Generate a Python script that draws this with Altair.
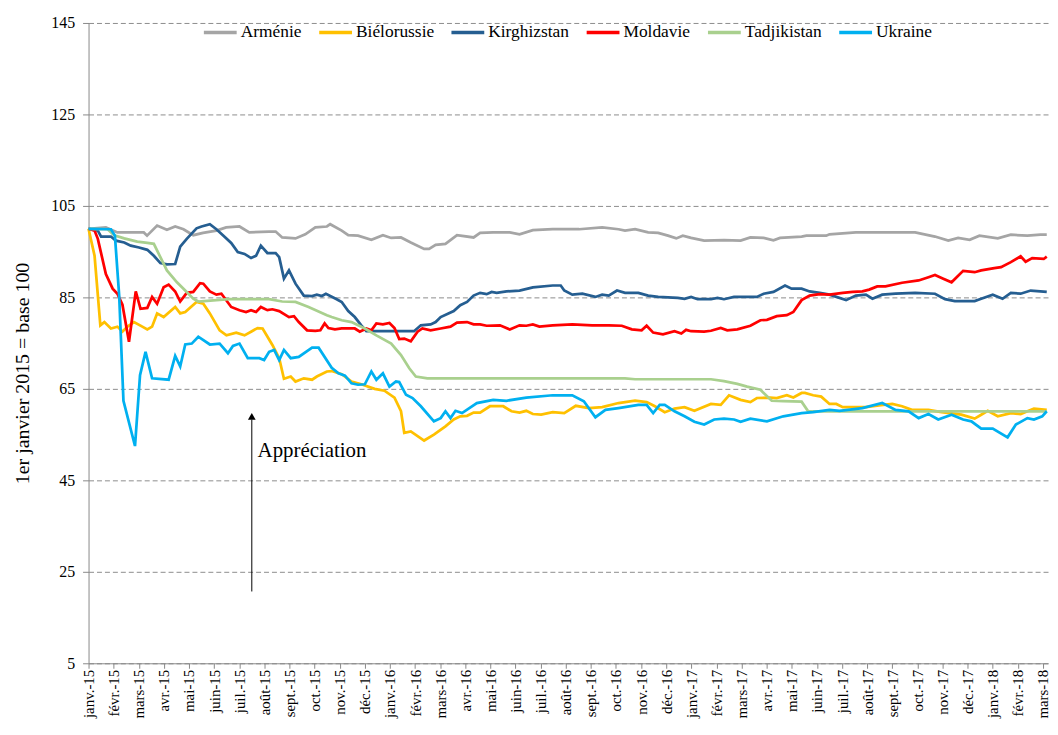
import altair as alt
import pandas as pd

FONT = "Liberation Serif"

MONTH_LABELS = [
    "janv.-15", "févr.-15", "mars-15", "avr.-15", "mai-15", "juin-15", "juil.-15", "août-15",
    "sept.-15", "oct.-15", "nov.-15", "déc.-15",
    "janv.-16", "févr.-16", "mars-16", "avr.-16", "mai-16", "juin-16", "juil.-16", "août-16",
    "sept.-16", "oct.-16", "nov.-16", "déc.-16",
    "janv.-17", "févr.-17", "mars-17", "avr.-17", "mai-17", "juin-17", "juil.-17", "août-17",
    "sept.-17", "oct.-17", "nov.-17", "déc.-17",
    "janv.-18", "févr.-18", "mars-18",
]
Y_TICKS = [5, 25, 45, 65, 85, 105, 125, 145]

SERIES_NAMES = ["Arménie", "Biélorussie", "Kirghizstan", "Moldavie", "Tadjikistan", "Ukraine"]
SERIES_COLORS = ["#A5A5A5", "#FFC000", "#255E91", "#FF0000", "#A9D08E", "#00B0F0"]

# (month index since janv.-15, index value)
ARMENIE = [(0, 100), (0.69, 100.3), (1.15, 99.2), (2.20, 99.2), (2.33, 98.5), (2.73, 100.7), (3.12, 99.8),
           (3.45, 100.5), (3.78, 99.9), (4.17, 98.6), (4.56, 99.1), (5.09, 99.6), (5.48, 100.3), (6.01, 100.5),
           (6.40, 99.2), (7.19, 99.4), (7.45, 99.4), (7.71, 98.1), (8.24, 97.9), (8.63, 98.8), (9.03, 100.3),
           (9.49, 100.5), (9.62, 101.0), (10.08, 99.6), (10.34, 98.6), (10.73, 98.5), (11.26, 97.6), (11.72, 98.6),
           (12.05, 98.0), (12.44, 98.1), (12.83, 97.0), (13.36, 95.6), (13.56, 95.6), (13.82, 96.5), (14.21, 96.7),
           (14.67, 98.6), (15.33, 98.1), (15.59, 99.1), (16.11, 99.2), (16.77, 99.2), (17.16, 98.8), (17.69, 99.7),
           (18.48, 99.9), (19.53, 99.9), (20.45, 100.3), (21.10, 99.9), (21.36, 99.6), (21.76, 99.9), (22.28, 99.2),
           (22.68, 99.1), (23.07, 98.5), (23.40, 97.9), (23.66, 98.5), (23.99, 98.0), (24.51, 97.4), (25.30, 97.5),
           (25.96, 97.4), (26.35, 98.1), (26.88, 98.0), (27.27, 97.5), (27.53, 98.0), (28.39, 98.3), (28.58, 98.5),
           (29.37, 98.5), (29.50, 98.8), (30.55, 99.2), (32.91, 99.2), (33.70, 98.3), (34.23, 97.4), (34.62, 98.0),
           (35.08, 97.6), (35.47, 98.5), (36.20, 97.9), (36.72, 98.7), (37.38, 98.5), (37.90, 98.7), (38.15, 98.7)]

BIELORUSSIE = [(0, 100), (0.24, 94.1), (0.47, 78.9), (0.63, 79.6), (0.89, 78.2), (1.15, 78.6), (1.35, 77.5),
               (1.55, 78.6), (1.81, 79.6), (2.14, 78.6), (2.34, 78.0), (2.53, 78.6), (2.73, 81.5), (2.99, 80.7),
               (3.45, 82.9), (3.65, 81.5), (3.85, 81.8), (4.30, 84.0), (4.57, 83.6), (4.83, 81.5), (5.22, 77.8),
               (5.49, 76.7), (5.88, 77.3), (6.21, 76.7), (6.47, 77.5), (6.73, 78.3), (6.93, 78.2), (7.32, 74.6),
               (7.59, 71.7), (7.78, 67.2), (8.05, 67.7), (8.24, 66.6), (8.57, 67.3), (8.90, 67.0), (9.09, 67.7),
               (9.49, 68.8), (9.68, 68.9), (10.08, 68.2), (10.47, 66.6), (10.86, 66.0), (11.39, 65.0), (11.78, 64.6),
               (12.18, 63.1), (12.44, 60.1), (12.57, 55.4), (12.83, 55.7), (13.36, 53.7), (13.75, 55.0), (14.21, 56.8),
               (14.54, 58.3), (14.80, 59.0), (15.07, 59.1), (15.33, 59.8), (15.59, 59.8), (15.98, 61.2), (16.51, 61.2),
               (16.84, 60.1), (17.16, 59.8), (17.43, 60.2), (17.69, 59.5), (18.02, 59.35), (18.48, 59.9), (18.94, 59.7),
               (19.40, 61.3), (19.92, 60.8), (20.45, 61.0), (21.10, 61.9), (21.76, 62.4), (22.22, 62.1), (22.55, 61.2),
               (22.94, 59.9), (23.33, 60.7), (23.73, 61.0), (24.12, 60.2), (24.78, 61.7), (25.17, 61.5), (25.50, 63.6),
               (25.96, 62.6), (26.35, 62.1), (26.61, 63.0), (27.14, 63.1), (27.40, 63.0), (27.80, 63.6), (28.06, 63.1),
               (28.39, 64.1), (28.52, 64.1), (28.85, 63.6), (29.17, 63.3), (29.50, 61.7), (29.77, 61.7), (30.03, 61.0),
               (30.95, 61.0), (31.47, 61.4), (32.00, 61.7), (32.39, 61.2), (32.78, 60.4), (33.44, 60.4), (33.96, 59.9),
               (34.75, 59.35), (35.28, 58.5), (35.54, 59.35), (35.80, 60.2), (36.20, 59.0), (36.72, 59.7), (37.11, 59.5),
               (37.64, 60.7), (38.15, 60.4)]

KIRGHIZSTAN = [(0, 100), (0.37, 99.6), (0.50, 98.3), (0.89, 98.3), (1.09, 97.4), (1.42, 97.0), (1.68, 96.3),
               (2.01, 95.9), (2.34, 95.4), (2.60, 94.1), (2.86, 92.5), (3.12, 92.2), (3.45, 92.3), (3.65, 96.1),
               (3.91, 97.8), (4.30, 100.1), (4.50, 100.5), (4.83, 101.0), (5.09, 99.9), (5.35, 98.6), (5.68, 96.9),
               (5.94, 94.9), (6.21, 94.5), (6.47, 93.6), (6.67, 94.1), (6.86, 96.3), (7.12, 94.7), (7.45, 94.7),
               (7.59, 93.8), (7.78, 89.1), (7.98, 90.9), (8.24, 88.0), (8.57, 85.4), (8.90, 85.3), (9.09, 85.6),
               (9.29, 85.3), (9.45, 85.8), (9.88, 84.6), (10.08, 84.0), (10.34, 82.0), (10.60, 80.7), (10.86, 78.9),
               (11.06, 77.6), (12.96, 77.6), (13.23, 78.9), (13.62, 79.1), (13.82, 79.6), (14.02, 80.7), (14.54, 82.0),
               (14.80, 83.3), (15.07, 84.0), (15.33, 85.4), (15.59, 86.0), (15.85, 85.7), (16.05, 86.2), (16.25, 86.0),
               (16.64, 86.3), (17.16, 86.5), (17.69, 87.2), (18.48, 87.6), (18.80, 87.6), (18.94, 86.5), (19.26, 85.6),
               (19.66, 85.8), (20.18, 85.1), (20.45, 85.6), (20.71, 85.4), (21.04, 86.5), (21.36, 86.0), (21.89, 86.0),
               (22.28, 85.4), (22.68, 85.1), (23.46, 84.9), (23.73, 84.7), (23.99, 85.1), (24.25, 84.6), (24.78, 84.6),
               (25.04, 84.9), (25.30, 84.6), (25.70, 85.1), (26.61, 85.1), (26.88, 85.8), (27.27, 86.2), (27.73, 87.6),
               (27.99, 86.9), (28.39, 86.9), (28.71, 86.3), (29.11, 86.0), (29.50, 85.6), (30.16, 84.4), (30.55, 85.4),
               (30.95, 85.6), (31.21, 84.7), (31.60, 85.6), (32.13, 85.8), (32.91, 86.0), (33.70, 85.8), (34.10, 84.6),
               (34.49, 84.2), (35.28, 84.2), (35.54, 84.7), (36.00, 85.6), (36.39, 84.7), (36.72, 86.0), (37.11, 85.8),
               (37.51, 86.5), (38.15, 86.2)]

MOLDAVIE = [(0, 100), (0.24, 99.6), (0.37, 97.8), (0.69, 90.1), (0.96, 86.9), (1.15, 85.8), (1.35, 83.4),
            (1.61, 75.3), (1.88, 86.3), (2.07, 82.5), (2.34, 82.7), (2.53, 85.1), (2.73, 83.6), (2.99, 87.2),
            (3.19, 87.8), (3.45, 86.3), (3.65, 84.1), (3.91, 86.0), (4.17, 86.2), (4.44, 88.1), (4.57, 88.0),
            (4.83, 86.3), (5.09, 85.6), (5.29, 85.8), (5.68, 82.9), (6.01, 82.2), (6.27, 81.8), (6.47, 82.2),
            (6.67, 81.8), (6.86, 82.9), (7.12, 82.2), (7.32, 82.4), (7.59, 82.0), (7.98, 80.7), (8.18, 80.9),
            (8.37, 79.6), (8.70, 77.8), (9.03, 77.7), (9.23, 77.8), (9.40, 79.3), (9.55, 78.3), (9.81, 78.0),
            (10.08, 78.2), (10.60, 78.2), (10.80, 77.5), (11.06, 78.2), (11.26, 77.8), (11.46, 79.3), (11.72, 79.1),
            (11.98, 79.4), (12.18, 78.3), (12.37, 75.9), (12.57, 76.0), (12.83, 75.4), (13.10, 77.5), (13.29, 78.2),
            (13.62, 77.8), (14.02, 78.2), (14.41, 78.6), (14.67, 79.5), (15.07, 79.6), (15.33, 79.1), (15.59, 79.1),
            (15.85, 78.8), (16.38, 78.9), (16.77, 78.0), (17.16, 78.9), (17.43, 78.8), (17.69, 79.1), (17.95, 78.6),
            (18.48, 78.9), (19.26, 79.1), (20.05, 78.9), (20.71, 78.9), (21.23, 78.8), (21.63, 78.0), (22.02, 77.8),
            (22.22, 78.8), (22.48, 77.3), (22.87, 76.9), (23.33, 77.6), (23.60, 77.1), (23.79, 77.9), (23.99, 77.6),
            (24.51, 77.5), (24.78, 77.7), (25.17, 78.3), (25.43, 77.8), (25.83, 78.0), (26.35, 78.8), (26.75, 80.0),
            (27.01, 80.1), (27.40, 80.9), (27.80, 81.1), (28.06, 81.8), (28.39, 84.4), (28.71, 85.4), (29.11, 85.7),
            (29.50, 85.6), (30.03, 86.0), (30.42, 86.2), (30.81, 86.3), (31.08, 86.7), (31.40, 87.4), (31.73, 87.4),
            (32.39, 88.2), (33.05, 88.7), (33.44, 89.4), (33.70, 89.9), (34.03, 89.1), (34.36, 88.3), (34.82, 90.8),
            (35.28, 90.5), (35.54, 90.9), (36.06, 91.4), (36.33, 91.6), (36.72, 92.7), (37.11, 94.0), (37.31, 92.8),
            (37.57, 93.6), (38.03, 93.4), (38.15, 93.9)]

TADJIKISTAN = [(0, 100), (0.76, 99.9), (1.02, 98.6), (1.42, 97.9), (1.94, 97.2), (2.34, 96.9), (2.60, 96.7),
               (3.12, 90.9), (3.52, 88.3), (3.78, 86.9), (4.17, 84.7), (4.37, 84.1), (5.09, 84.4), (5.62, 84.6),
               (7.19, 84.6), (7.71, 84.1), (8.24, 84.0), (8.76, 82.9), (9.49, 81.1), (9.68, 80.7), (10.08, 80.0),
               (10.47, 79.6), (11.00, 78.2), (11.46, 76.7), (12.05, 74.9), (12.44, 72.4), (12.77, 69.5), (13.03, 67.7),
               (13.49, 67.3), (21.36, 67.3), (21.76, 67.1), (24.78, 67.1), (25.30, 66.7), (25.83, 66.1), (26.22, 65.5),
               (26.75, 64.8), (27.20, 62.4), (27.66, 62.3), (28.39, 62.2), (28.65, 60.1), (38.15, 60.1)]

UKRAINE = [(0, 100), (0.89, 99.9), (1.05, 98.5), (1.22, 85.4), (1.39, 62.4), (1.85, 52.5), (2.05, 68.0),
           (2.27, 73.1), (2.53, 67.3), (3.19, 67.0), (3.45, 72.2), (3.65, 69.9), (3.85, 74.7), (4.11, 74.9),
           (4.37, 76.4), (4.83, 74.7), (5.22, 74.9), (5.55, 72.8), (5.75, 74.4), (6.01, 74.9), (6.34, 71.7),
           (6.80, 71.7), (6.99, 71.3), (7.19, 73.1), (7.39, 73.5), (7.59, 71.3), (7.78, 73.5), (8.05, 71.7),
           (8.37, 72.0), (8.90, 74.0), (9.16, 74.0), (9.68, 69.6), (9.95, 68.4), (10.21, 67.9), (10.47, 66.2),
           (10.73, 65.9), (11.00, 66.0), (11.26, 68.8), (11.46, 67.0), (11.72, 68.4), (11.98, 65.5), (12.24, 66.6),
           (12.37, 66.5), (12.64, 63.7), (12.90, 63.0), (13.23, 61.2), (13.75, 57.9), (14.02, 58.6), (14.21, 60.1),
           (14.41, 58.6), (14.61, 60.2), (14.87, 59.7), (15.46, 61.9), (16.11, 62.6), (16.64, 62.4), (17.43, 63.1),
           (18.48, 63.6), (19.26, 63.6), (19.72, 62.3), (20.18, 58.8), (20.58, 60.4), (21.10, 60.8), (21.89, 61.5),
           (22.22, 61.5), (22.48, 59.7), (22.74, 61.5), (22.94, 61.5), (23.33, 60.1), (23.73, 59.0), (24.12, 57.8),
           (24.51, 57.2), (24.91, 58.3), (25.30, 58.5), (25.70, 58.3), (25.96, 57.8), (26.35, 58.5), (27.01, 57.9),
           (27.66, 59.0), (28.39, 59.7), (28.85, 59.9), (29.50, 60.4), (29.90, 60.2), (30.81, 60.8), (31.60, 61.9),
           (32.13, 60.4), (32.65, 60.1), (33.05, 58.6), (33.44, 59.5), (33.83, 58.3), (34.36, 59.35), (34.82, 58.3),
           (35.15, 57.9), (35.54, 56.3), (36.00, 56.3), (36.59, 54.4), (36.92, 57.2), (37.38, 58.6), (37.64, 58.3),
           (37.97, 59.0), (38.15, 60.1)]

# annotation "Appréciation" (arrow in data units)
ARROW_X = 6.5
ARROW_BOTTOM = 20.7
ARROW_TOP = 58.3
ARROW_HEAD = 59.0
NOTE_TEXT = "Appréciation"
NOTE_X = 6.73
NOTE_Y = 51.5

rows = []
for name, pts in zip(SERIES_NAMES, [ARMENIE, BIELORUSSIE, KIRGHIZSTAN, MOLDAVIE, TADJIKISTAN, UKRAINE]):
    for m, v in pts:
        rows.append({"pays": name, "mois": m, "indice": v})
df = pd.DataFrame(rows)

label_expr = "[" + ",".join('"%s"' % l for l in MONTH_LABELS) + "][datum.value]"

x_enc = alt.X(
    "mois:Q",
    scale=alt.Scale(domain=[0, 38.2], nice=False, zero=False),
    axis=alt.Axis(
        values=list(range(len(MONTH_LABELS))), labelExpr=label_expr, labelAngle=270,
        labelFont=FONT, labelFontSize=15, labelColor="black", labelFlush=False, labelOverlap=False,
        tickColor="#888888", domainColor="#888888", tickSize=5, labelPadding=1, grid=False, title=None,
    ),
)
y_enc = alt.Y(
    "indice:Q",
    scale=alt.Scale(domain=[5, 145], nice=False, zero=False),
    axis=alt.Axis(
        values=Y_TICKS, format="d", labelFont=FONT, labelFontSize=16, labelColor="black",
        tickColor="#888888", domainColor="#888888", tickSize=6, labelPadding=8,
        grid=True, gridDash=[5, 3], gridColor="#8c8c8c", gridWidth=1,
        title="1er janvier 2015 = base 100", titleFont=FONT, titleFontSize=20, titleFontWeight="normal",
        titleColor="black", titleAngle=270, titleX=-66, titleY=352, titleAlign="center", titleBaseline="middle",
    ),
)

lines = alt.Chart(df).mark_line(strokeWidth=2.75).encode(
    x=x_enc,
    y=y_enc,
    color=alt.Color(
        "pays:N",
        scale=alt.Scale(domain=SERIES_NAMES, range=SERIES_COLORS),
        legend=alt.Legend(
            title=None, orient="none", legendX=114, legendY=-9, direction="horizontal",
            symbolType="stroke", symbolSize=1089, symbolStrokeWidth=3.5,
            labelFont=FONT, labelFontSize=17.5, labelColor="black", labelOffset=2, columnPadding=10,
            padding=0,
        ),
    ),
)

arrow_df = pd.DataFrame({"mois": [ARROW_X], "indice": [ARROW_BOTTOM], "indice2": [ARROW_TOP]})
arrow = alt.Chart(arrow_df).mark_rule(color="black", strokeWidth=1).encode(
    x=x_enc, y=y_enc, y2="indice2:Q"
)
head_df = pd.DataFrame({"mois": [ARROW_X], "indice": [ARROW_HEAD]})
head = alt.Chart(head_df).mark_point(shape="triangle-up", filled=True, color="black", size=60, opacity=1).encode(
    x=x_enc, y=y_enc
)
note_df = pd.DataFrame({"mois": [NOTE_X], "indice": [NOTE_Y], "txt": [NOTE_TEXT]})
note = alt.Chart(note_df).mark_text(align="left", baseline="middle", font=FONT, fontSize=21, color="black").encode(
    x=x_enc, y=y_enc, text="txt:N"
)

chart = alt.layer(lines, arrow, head, note).properties(
    width=965,
    height=644,
    autosize=alt.AutoSizeParams(type="none"),
    padding={"left": 81, "top": 13, "right": 2, "bottom": 56},
    background="white",
).configure_view(stroke=None)

chart.save("out.html", embed_options={"renderer": "svg", "actions": False})
